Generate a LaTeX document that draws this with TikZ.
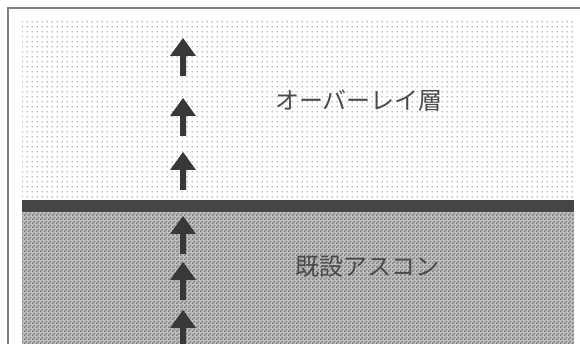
\documentclass[tikz,border=0pt]{standalone}
\usepackage{fontspec}
\newfontfamily\jpfont{Noto Sans CJK JP}
\usetikzlibrary{patterns.meta}
\tikzdeclarepattern{name=sparsedots,type=uncolored,bounding box={(0,0) and (5pt,5pt)},tile size={(5pt,5pt)},code={\fill (2.5pt,2.5pt) circle (0.8pt);}}
\tikzdeclarepattern{name=checkdots,type=uncolored,bounding box={(0,0) and (4pt,4pt)},tile size={(4pt,4pt)},code={\fill (0,0) rectangle (2pt,2pt); \fill (2pt,2pt) rectangle (4pt,4pt);}}
\definecolor{arrowgray}{HTML}{383838}
\definecolor{bandgray}{HTML}{454545}
\definecolor{textgray}{HTML}{4A4A4A}
\tikzset{
  upArrow/.style={fill=arrowgray,draw=none},
  layerLabel/.style={font=\jpfont\fontsize{24}{24}\selectfont,text=textgray,inner sep=0pt},
  frameLine/.style={draw=black!50,line width=1.3pt}
}
\newcommand{\uparrowat}[2]{%
  \fill[upArrow] (#1,#2) -- (#1-13,#2+18) -- (#1-3,#2+18) -- (#1-3,#2+38) -- (#1+3,#2+38) -- (#1+3,#2+18) -- (#1+13,#2+18) -- cycle;}
\begin{document}
\begin{tikzpicture}[x=1pt,y=-1pt]
\useasboundingbox (0,0) rectangle (580,344);
\clip (0,0) rectangle (580,344);
\fill[white] (0,0) rectangle (580,344);
% frame
\draw[frameLine] (8,352) -- (8,8) -- (590,8);
% overlay layer (upper)
\fill[pattern={sparsedots},pattern color=black!55] (22,22) rectangle (574,200);
% existing asphalt (lower)
\fill[black!25] (22,212) rectangle (574,350);
\fill[pattern={checkdots},pattern color=black!50] (22,212) rectangle (574,350);
% boundary band
\fill[bandgray] (22,200) rectangle (574,212);
% arrows
\uparrowat{183}{38}
\uparrowat{183}{98}
\uparrowat{183}{152}
\uparrowat{183}{216}
\uparrowat{183}{262}
\uparrowat{183}{310}
% labels
\node[layerLabel] (overlay) at (359,101) {オーバーレイ層};
\node[layerLabel] (asphalt) at (367,267) {既設アスコン};
\end{tikzpicture}
\end{document}
